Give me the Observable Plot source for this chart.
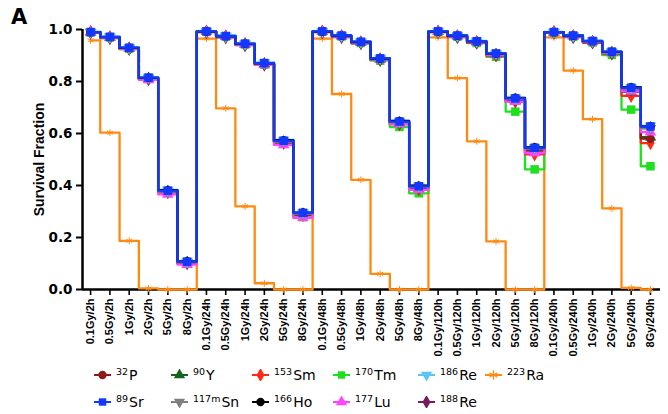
<!DOCTYPE html>
<html><head><meta charset="utf-8">
<script src="https://cdn.jsdelivr.net/npm/d3@7"></script>
<script src="https://cdn.jsdelivr.net/npm/@observablehq/plot@0.6"></script>
<style>
body{margin:0;background:#fff;}
#wrap{position:relative;width:668px;height:414px;overflow:hidden;font-family:"DejaVu Sans",sans-serif;background:#fff;}
#panel{position:absolute;left:11px;top:5px;font:bold 21px "DejaVu Sans",sans-serif;}
#chart{position:absolute;left:0;top:0;}
#legend{position:absolute;left:94px;top:364px;display:grid;grid-template-columns:77px 81px 81px 85px 67px 80px;row-gap:5px;}
.item{display:flex;align-items:center;height:22px;font-size:14px;color:#000;white-space:nowrap;}
.item svg{margin-right:5px;flex:none}
.sup{font-size:9.5px;position:relative;top:-5px;margin-right:1px}
</style></head><body>
<div id="wrap"><div id="chart"></div><div id="panel">A</div><div id="legend"></div></div>
<script>
// ---- data ----
const doses = ["0.1Gy","0.5Gy","1Gy","2Gy","5Gy","8Gy"];
const times = ["2h","24h","48h","120h","240h"];
const categories = times.flatMap(t => doses.map(d => d + "/" + t));

const P32   = [0.990,0.970,0.928,0.812,0.378,0.104, 0.992,0.974,0.944,0.868,0.568,0.290, 0.992,0.975,0.951,0.886,0.642,0.390, 0.992,0.975,0.953,0.904,0.728,0.535, 0.990,0.975,0.954,0.912,0.765,0.580];
const Y90   = [0.990,0.970,0.928,0.812,0.377,0.104, 0.992,0.974,0.944,0.868,0.567,0.289, 0.992,0.975,0.951,0.886,0.641,0.389, 0.992,0.975,0.953,0.904,0.727,0.534, 0.990,0.975,0.953,0.911,0.760,0.586];
const Sm153 = [0.990,0.970,0.927,0.811,0.376,0.103, 0.992,0.973,0.943,0.867,0.565,0.287, 0.992,0.974,0.950,0.884,0.636,0.385, 0.992,0.974,0.951,0.900,0.722,0.520, 0.990,0.974,0.952,0.908,0.745,0.563];
const Tm170 = [0.990,0.969,0.926,0.810,0.373,0.100, 0.992,0.973,0.942,0.865,0.560,0.278, 0.992,0.973,0.948,0.880,0.625,0.370, 0.991,0.972,0.948,0.895,0.684,0.462, 0.990,0.972,0.950,0.902,0.692,0.474];
const Re186 = [0.992,0.973,0.931,0.817,0.383,0.109, 0.994,0.977,0.947,0.873,0.575,0.297, 0.994,0.978,0.954,0.890,0.648,0.399, 0.994,0.978,0.956,0.909,0.737,0.547, 0.991,0.978,0.957,0.916,0.778,0.629];
const Ra223 = [0.958,0.603,0.187,0.004,0.000,0.000, 0.965,0.697,0.320,0.024,0.000,0.000, 0.965,0.752,0.422,0.060,0.000,0.000, 0.970,0.813,0.570,0.185,0.000,0.000, 0.970,0.842,0.655,0.312,0.006,0.000];
const Sr89  = [0.990,0.972,0.930,0.815,0.380,0.107, 0.993,0.975,0.946,0.871,0.572,0.295, 0.993,0.977,0.953,0.889,0.646,0.397, 0.993,0.977,0.955,0.908,0.735,0.545, 0.990,0.977,0.956,0.915,0.776,0.627];
const Sn117m= [0.989,0.969,0.927,0.812,0.377,0.104, 0.991,0.972,0.943,0.868,0.569,0.292, 0.991,0.974,0.950,0.886,0.643,0.394, 0.991,0.974,0.952,0.905,0.732,0.542, 0.989,0.974,0.953,0.912,0.772,0.620];
const Ho166 = [0.990,0.971,0.929,0.814,0.382,0.108, 0.992,0.974,0.945,0.870,0.574,0.296, 0.992,0.976,0.952,0.888,0.648,0.399, 0.992,0.976,0.954,0.907,0.737,0.547, 0.990,0.976,0.955,0.914,0.778,0.628];
const Lu177 = [0.990,0.969,0.926,0.806,0.366,0.096, 0.992,0.972,0.942,0.864,0.556,0.276, 0.992,0.974,0.949,0.884,0.636,0.383, 0.992,0.974,0.951,0.902,0.722,0.525, 0.990,0.974,0.952,0.910,0.762,0.605];
const Re188 = [0.988,0.967,0.925,0.809,0.374,0.101, 0.990,0.970,0.940,0.865,0.566,0.289, 0.990,0.971,0.947,0.883,0.640,0.391, 0.990,0.971,0.949,0.902,0.729,0.539, 0.988,0.971,0.950,0.909,0.770,0.621];

const yTicks = [0, 0.2, 0.4, 0.6, 0.8, 1.0];

const series = [
  {sup:"32",  el:"P",  v:P32,   color:"#8b1a1a", sym:"circle",   rot:0},
  {sup:"90",  el:"Y",  v:Y90,   color:"#13631a", sym:"triangle", rot:0},
  {sup:"153", el:"Sm", v:Sm153, color:"#ff2a14", sym:"diamond",  rot:0},
  {sup:"170", el:"Tm", v:Tm170, color:"#1fe01f", sym:"square",   rot:0},
  {sup:"186", el:"Re", v:Re186, color:"#5cc3f5", sym:"triangle", rot:180},
  {sup:"223", el:"Ra", v:Ra223, color:"#ff8a12", sym:"asterisk", rot:0},
  {sup:"89",  el:"Sr", v:Sr89,  color:"#1238ff", sym:"square",   rot:0},
  {sup:"117m",el:"Sn", v:Sn117m,color:"#808080", sym:"triangle", rot:180},
  {sup:"166", el:"Ho", v:Ho166, color:"#000000", sym:"circle",   rot:0},
  {sup:"177", el:"Lu", v:Lu177, color:"#ff44ff", sym:"triangle", rot:0},
  {sup:"188", el:"Re", v:Re188, color:"#7a1a5c", sym:"diamond",  rot:0}
];
series.forEach(s => s.key = s.sup + s.el);

const drawOrder = ["223Ra","170Tm","153Sm","90Y","32P","188Re","177Lu","117mSn","186Re","166Ho","89Sr"];

const xDomain = [-0.42, 29.52];
const marks = [
  Plot.ruleY([0], {stroke:"#000", strokeWidth:2.5}),
  Plot.ruleX([xDomain[0]], {stroke:"#000", strokeWidth:2.5}),
  Plot.axisY({ticks: yTicks, tickFormat: d3.format(".1f"), tickSize: 6, tickPadding: 4,
    fontSize: 13.5, fontWeight: "bold", strokeWidth: 2,
    label: "Survival Fraction", labelAnchor: "center", labelOffset: 48, labelArrow: "none"}),
  Plot.axisX({ticks: d3.range(categories.length), tickFormat: i => categories[i], tickRotate: -90,
    tickSize: 6, tickPadding: 3, fontSize: 11, fontWeight: "bold", fontFamily: "Liberation Sans, Arial, sans-serif",
    strokeWidth: 1.6, label: null})
];
for (const k of drawOrder) {
  const s = series.find(d => d.key === k);
  const data = s.v.map((v, i) => ({i, v}));
  marks.push(Plot.line(data, {x:"i", y:"v", curve:"step", stroke:s.color, strokeWidth:2.3}));
  const dotOpts = {x:"i", y:"v", symbol: () => s.sym, rotate: s.rot};
  if (s.sym === "asterisk") Object.assign(dotOpts, {stroke:s.color, strokeWidth:1, r:3.2});
  else Object.assign(dotOpts, {fill:s.color, stroke:"none", r: s.sym === "square" ? 4.8 : 4.3});
  marks.push(Plot.dot(data, dotOpts));
}

const chart = Plot.plot({
  width: 668, height: 362,
  marginLeft: 82, marginRight: 8, marginTop: 29, marginBottom: 73,
  style: {fontFamily: "DejaVu Sans, sans-serif", background: "transparent", color: "#000"},
  x: {type: "linear", domain: xDomain},
  y: {domain: [0, 1]},
  symbol: {type: "identity"},
  marks
});
document.getElementById("chart").appendChild(chart);
chart.querySelectorAll("text").forEach(t => {
  if (t.textContent.includes("Survival Fraction")) {
    t.setAttribute("font-size", "14"); t.setAttribute("font-weight", "bold");
    t.style.fontFamily = "Liberation Sans, Arial, sans-serif";
  }
});

// ---- legend ----
const symMap = {circle:d3.symbolCircle, triangle:d3.symbolTriangle, diamond:d3.symbolDiamond, square:d3.symbolSquare, asterisk:d3.symbolAsterisk};
const legend = document.getElementById("legend");
for (const s of series) {
  const item = document.createElement("div"); item.className = "item";
  const svg = d3.create("svg").attr("width", 17).attr("height", 12);
  svg.append("line").attr("x1",0).attr("x2",17).attr("y1",6).attr("y2",6).attr("stroke", s.color).attr("stroke-width",2);
  const p = svg.append("path").attr("d", d3.symbol(symMap[s.sym], s.sym==="asterisk"?60:55)())
    .attr("transform", `translate(8.5,6) rotate(${s.rot})`);
  if (s.sym === "asterisk") p.attr("fill","none").attr("stroke", s.color).attr("stroke-width",1.2);
  else p.attr("fill", s.color);
  item.appendChild(svg.node());
  const sp = document.createElement("span");
  sp.innerHTML = `<span class="sup">${s.sup}</span>${s.el}`;
  item.appendChild(sp);
  legend.appendChild(item);
}
</script></body></html>
